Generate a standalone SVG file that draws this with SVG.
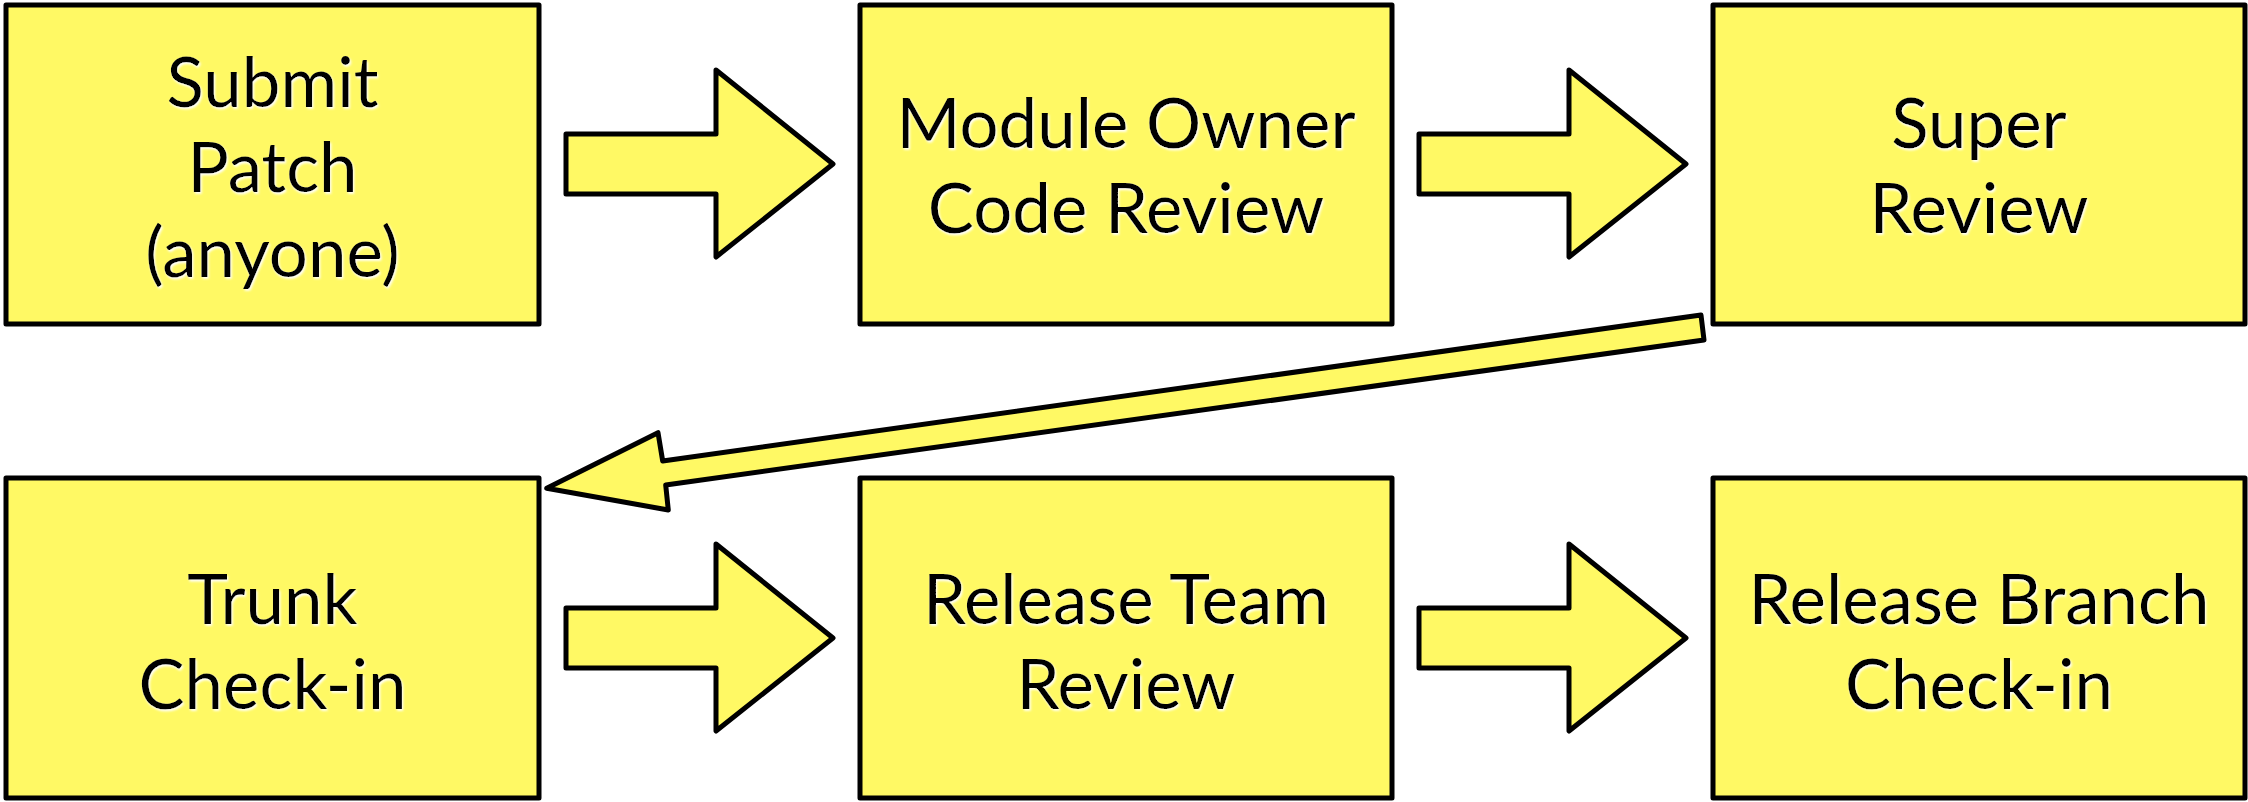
<svg xmlns="http://www.w3.org/2000/svg" width="2248" height="802" viewBox="0 0 2248 802">
<defs>
<filter id="glow" x="-5%" y="-20%" width="110%" height="140%">
<feDropShadow dx="1.2" dy="1.8" stdDeviation="1" flood-color="#ffffff" flood-opacity="1"/>
</filter>
<style>
.box{fill:#FFF964;stroke:#000;stroke-width:5;stroke-linejoin:round}
.arr{fill:#FFF964;stroke:#000;stroke-width:5;stroke-linejoin:round}
.lbl{font-family:Lato,"Open Sans","Liberation Sans",sans-serif;font-size:69px;fill:#000;text-anchor:middle;filter:url(#glow)}
</style>
</defs>
<rect width="2248" height="802" fill="#fff"/>
<g id="n1"><rect class="box" x="6" y="5" width="533" height="319"/>
<text class="lbl"><tspan x="272.5" y="107">Submit</tspan><tspan x="272.5" y="192">Patch</tspan><tspan x="272.5" y="277">(anyone)</tspan></text></g>
<g id="n2"><rect class="box" x="860" y="5" width="532" height="319"/>
<text class="lbl"><tspan x="1126" y="148">Module Owner</tspan><tspan x="1126" y="233">Code Review</tspan></text></g>
<g id="n3"><rect class="box" x="1713" y="5" width="532" height="319"/>
<text class="lbl"><tspan x="1979" y="148">Super</tspan><tspan x="1979" y="233">Review</tspan></text></g>
<g id="n4"><rect class="box" x="6" y="478" width="533" height="320"/>
<text class="lbl"><tspan x="272.5" y="624">Trunk</tspan><tspan x="272.5" y="709">Check-in</tspan></text></g>
<g id="n5"><rect class="box" x="860" y="478" width="532" height="320"/>
<text class="lbl"><tspan x="1126" y="624">Release Team</tspan><tspan x="1126" y="709">Review</tspan></text></g>
<g id="n6"><rect class="box" x="1713" y="478" width="532" height="320"/>
<text class="lbl"><tspan x="1979" y="624">Release Branch</tspan><tspan x="1979" y="709">Check-in</tspan></text></g>
<g id="connectors">
<path class="arr" d="M566,134 H716 V70 L833,164 L716,257 V194 H566 Z"/>
<path class="arr" d="M1419,134 H1569 V70 L1686,164 L1569,257 V194 H1419 Z"/>
<path class="arr" d="M566,608 H716 V544 L833,638 L716,731 V668 H566 Z"/>
<path class="arr" d="M1419,608 H1569 V544 L1686,638 L1569,731 V668 H1419 Z"/>
<path class="arr" d="M1701,315 L1704,340 L665.7,485 L668.3,510 L546.7,488.3 L658,432.7 L662.7,461 Z"/>
</g>
</svg>
